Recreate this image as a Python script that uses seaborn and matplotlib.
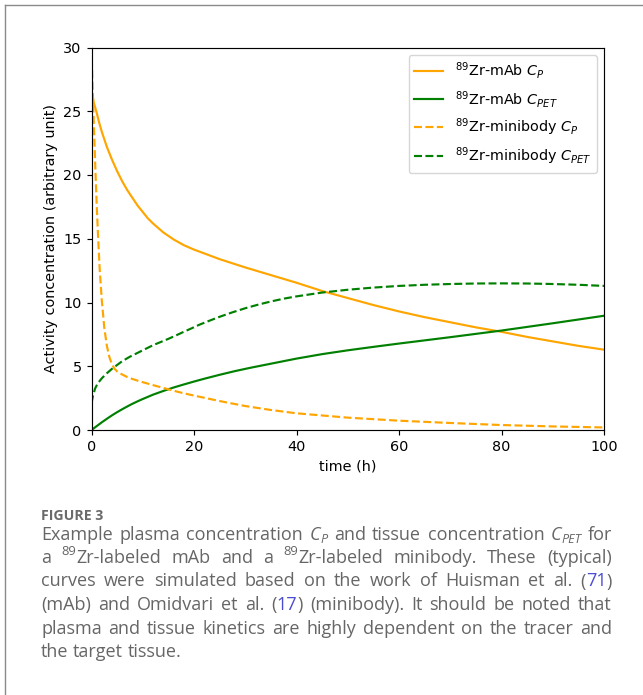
import re
import matplotlib
matplotlib.use("Agg")
import matplotlib.pyplot as plt
import seaborn as sns
from matplotlib.lines import Line2D

# ---- data ----
# 89Zr-mAb plasma (C_P)
t_mab_cp = [0, 0.5, 1, 1.5, 2, 3, 4, 5, 6, 7, 8, 9, 10, 11, 12, 13, 14, 16, 18, 20, 25, 30,
            35, 40, 45, 50, 55, 60, 65, 70, 75, 80, 85, 90, 95, 100]
mab_cp = [26.6, 25.6, 24.9, 24.1, 23.4, 22.2, 21.2, 20.3, 19.5, 18.8, 18.2, 17.6, 17.1, 16.6,
          16.2, 15.85, 15.5, 14.95, 14.5, 14.15, 13.4, 12.75, 12.15, 11.55, 10.9, 10.35, 9.8,
          9.3, 8.85, 8.45, 8.05, 7.7, 7.3, 6.95, 6.6, 6.3]

# 89Zr-mAb tissue (C_PET)
t_mab_pet = [0, 1, 2, 3, 4, 5, 6, 7, 8, 9, 10, 12, 14, 16, 18, 20, 22, 25, 28, 31, 35, 40,
             45, 50, 55, 60, 70, 80, 90, 100]
mab_pet = [0, 0.3, 0.6, 0.88, 1.15, 1.4, 1.63, 1.85, 2.06, 2.25, 2.43, 2.77, 3.06, 3.33, 3.57,
           3.8, 4.02, 4.33, 4.62, 4.88, 5.2, 5.6, 5.95, 6.25, 6.52, 6.78, 7.28, 7.8, 8.37, 8.96]

# 89Zr-minibody plasma (C_P)
t_mini_cp = [0, 0.1, 0.25, 0.5, 0.75, 1.0, 1.3, 1.6, 2.0, 2.5, 3.0, 3.5, 4.0, 4.5, 5, 6, 7, 8,
             9, 10, 12, 14, 16, 18, 20, 25, 30, 35, 40, 50, 60, 70, 80, 90, 100]
mini_cp = [30, 28.5, 26.5, 23.5, 20.5, 17.8, 15.0, 12.6, 10.2, 8.0, 6.6, 5.7, 5.15, 4.8, 4.6,
           4.35, 4.15, 4.0, 3.87, 3.75, 3.52, 3.3, 3.08, 2.88, 2.7, 2.27, 1.88, 1.57, 1.31,
           0.97, 0.73, 0.55, 0.39, 0.28, 0.2]

# 89Zr-minibody tissue (C_PET)
t_mini_pet = [0, 0.3, 0.7, 1.2, 2, 3, 4, 5, 6, 7.5, 9, 10.5, 12, 13.5, 15, 16.5, 18, 19.5, 21,
              23, 25, 27.5, 30, 32.5, 35, 37.5, 40, 45, 50, 55, 60, 65, 70, 75, 80, 85, 90, 95, 100]
mini_pet = [2.1, 2.7, 3.25, 3.65, 4.05, 4.45, 4.8, 5.1, 5.4, 5.75, 6.05, 6.35, 6.65, 6.9, 7.15,
            7.42, 7.7, 7.97, 8.25, 8.57, 8.88, 9.23, 9.55, 9.83, 10.08, 10.3, 10.48, 10.78,
            11.0, 11.17, 11.3, 11.39, 11.45, 11.49, 11.5, 11.49, 11.45, 11.39, 11.3]

x_ticks = [0, 20, 40, 60, 80, 100]
y_ticks = [0, 5, 10, 15, 20, 25, 30]

# ---- figure ----
W, H = 643, 695
fs = 10.35
lw = 1.55
plt.rcParams['font.family'] = ['DejaVu Sans']
plt.rcParams['axes.linewidth'] = 0.83

fig = plt.figure(figsize=(W / 100, H / 100), dpi=100)
ax = fig.add_axes([91.5 / W, (H - 430) / H, 512.5 / W, 382.5 / H])

sns.lineplot(x=t_mab_cp, y=mab_cp, ax=ax, color='orange', lw=lw, label=r'$^{89}$Zr-mAb $C_P$')
sns.lineplot(x=t_mab_pet, y=mab_pet, ax=ax, color='green', lw=lw, label=r'$^{89}$Zr-mAb $C_{PET}$')
sns.lineplot(x=t_mini_cp, y=mini_cp, ax=ax, color='orange', lw=lw, linestyle='--',
             label=r'$^{89}$Zr-minibody $C_P$')
sns.lineplot(x=t_mini_pet, y=mini_pet, ax=ax, color='green', lw=lw, linestyle='--',
             label=r'$^{89}$Zr-minibody $C_{PET}$')

ax.set_xlim(0, 100)
ax.set_ylim(0, 30)
ax.set_xticks(x_ticks)
ax.set_yticks(y_ticks)
ax.tick_params(labelsize=fs, width=0.83, length=3.6)
ax.set_xlabel('time (h)', fontsize=fs)
ax.set_ylabel('Activity concentration (arbitrary unit)', fontsize=fs)
ax.legend(loc='upper right', fontsize=fs)

# frame around the figure panel
fig.add_artist(Line2D([5 / W, 1], [1 - 5 / H, 1 - 5 / H], transform=fig.transFigure,
                      color='#8a8a8a', lw=1.0))
fig.add_artist(Line2D([5 / W, 5 / W], [0, 1 - 5 / H], transform=fig.transFigure,
                      color='#8a8a8a', lw=1.0))

# ---- caption ----
cap_fs = 13.0
cap_col = '#666666'
link_col = '#4b4bd2'
cap_font = 'Open Sans'
x_left, x_right = 41, 612

fig.text(x_left / W, (H - 520.5) / H, 'FIGURE 3', fontsize=10.2, weight='bold',
         color='#6a6a6a', family=cap_font, va='baseline')

caption = [
    "Example plasma concentration *C*_{P} and tissue concentration *C*_{PET} for",
    "a ^{89}Zr-labeled mAb and a ^{89}Zr-labeled minibody. These (typical)",
    "curves were simulated based on the work of Huisman et al. ([71])",
    "(mAb) and Omidvari et al. ([17]) (minibody). It should be noted that",
    "plasma and tissue kinetics are highly dependent on the tracer and",
    "the target tissue.",
]
base_y = [539.5, 563, 586.5, 610, 633.5, 657]

renderer = fig.canvas.get_renderer()
em = cap_fs * 100 / 72


def make_seg(s, kind):
    size, style, color, dy = cap_fs, 'normal', cap_col, 0
    if kind == 'i':
        style = 'italic'
    elif kind == 'sub':
        size, style, dy = cap_fs * 0.7, 'italic', -0.2 * em
    elif kind == 'sup':
        size, dy = cap_fs * 0.72, 0.42 * em
    elif kind == 'link':
        color = link_col
    t = fig.text(0, 0, s, fontsize=size, style=style, color=color, family=cap_font,
                 va='baseline', ha='left')
    return t, dy


def parse(word):
    out = []
    for sup, sub, it, link, plain in re.findall(r'\^\{(.*?)\}|_\{(.*?)\}|\*(.*?)\*|\[(.*?)\]|([^\^_\*\[]+)', word):
        if sup:
            out.append((sup, 'sup'))
        elif sub:
            out.append((sub, 'sub'))
        elif it:
            out.append((it, 'i'))
        elif link:
            out.append((link, 'link'))
        else:
            out.append((plain, 'n'))
    return out


tmp1 = fig.text(0, 0, 'x x', fontsize=cap_fs, family=cap_font)
tmp2 = fig.text(0, 0, 'xx', fontsize=cap_fs, family=cap_font)
space_w = tmp1.get_window_extent(renderer).width - tmp2.get_window_extent(renderer).width
tmp1.remove()
tmp2.remove()

for i, line in enumerate(caption):
    words = []
    for w in line.split(' '):
        segs = [make_seg(s, k) for s, k in parse(w)]
        widths = [t.get_window_extent(renderer).width for t, _ in segs]
        words.append((segs, widths))
    total = sum(sum(ws) for _, ws in words)
    if i < len(caption) - 1:
        gap = (x_right - x_left - total) / (len(words) - 1)
    else:
        gap = space_w
    x = x_left
    for segs, widths in words:
        for (t, dy), wd in zip(segs, widths):
            t.set_position((x / W, (H - base_y[i] + dy) / H))
            x += wd
        x += gap

fig.savefig('out.png', dpi=100)
